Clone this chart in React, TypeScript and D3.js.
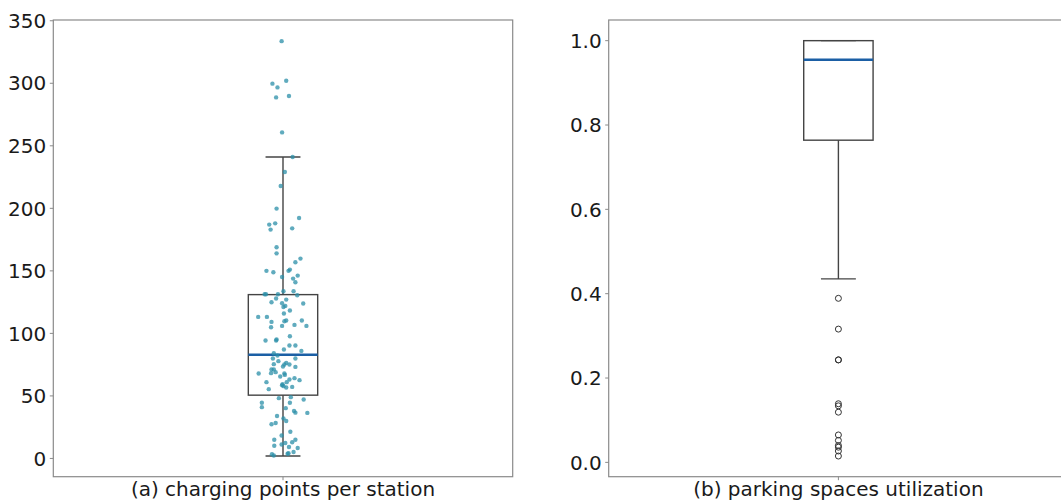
import React from "react";
import * as d3 from "d3";

// ---------- data ----------
const chargingValues: number[] = [
  333.7, 302, 299.7, 296.7, 288.7, 289.8, 260.7, 241, 229, 217.8, 199.8, 192.3, 187, 188, 183, 184,
  168.9, 164, 159.8, 156.9, 150, 148.9, 150, 151, 146.2, 145.1, 143.8, 140.9, 133.7, 133.7, 131.3,
  131.3, 131.3, 130.5, 127.9, 127, 124.9, 124.1, 123.9, 122, 121.1, 118.3, 115.9, 113.2, 113.2,
  110.3, 109.7, 110.3, 109.2, 106.8, 106, 106, 104.9, 97.7, 94.3, 94.3, 95.1, 87.1, 90.3, 90.3, 86,
  84.1, 82.3, 79.9, 79.9, 77.8, 75.4, 75.1, 75.1, 73.5, 76.4, 73.2, 71.1, 71.1, 68.2, 69, 67.9, 66.8,
  67.9, 65.5, 63.1, 64.2, 62.6, 61, 61, 58.6, 57.8, 59.4, 56.7, 57.2, 55.4, 48.2, 49, 44.5, 47.1,
  44.5, 41, 40.2, 38, 36.6, 36.4, 33.9, 32, 30, 27.3, 28.3, 21.3, 18.3, 15, 15, 12.4, 11.2, 12.9,
  10.1, 9.2, 8.3, 5.1, 3.3, 2.3, 3.8, 4.2,
];
const chargingJitter: number[] = [
  0.997, 1.007, 0.977, 0.988, 0.985, 1.013, 0.998, 1.021, 1.004, 0.995, 0.986, 1.035, 0.97, 0.983,
  0.973, 1.02, 0.986, 0.986, 1.038, 1.027, 0.964, 0.979, 1.012, 1.015, 1.032, 0.998, 1.022, 1.027,
  1.001, 1.023, 0.96, 0.963, 0.989, 1.031, 0.985, 1.007, 0.975, 0.998, 1.044, 1.005, 1.001, 1.015,
  1.002, 0.946, 0.965, 1.007, 1.003, 1.041, 0.975, 1.025, 0.998, 1.051, 0.974, 1.015, 0.962, 0.985,
  0.986, 1.002, 1.014, 1.027, 1.04, 0.98, 0.988, 0.978, 1.027, 0.99, 0.98, 1.014, 1.003, 1.0, 1.007,
  1.027, 0.975, 0.98, 0.974, 0.984, 1.003, 1.004, 0.947, 0.994, 1.014, 1.025, 1.036, 0.964, 1.008,
  0.998, 1.001, 0.999, 1.007, 1.02, 0.969, 0.991, 1.017, 1.015, 1.045, 0.954, 0.954, 1.006, 1.024,
  1.027, 1.053, 0.987, 1.001, 1.007, 0.975, 0.984, 1.016, 0.997, 0.981, 1.027, 1.005, 0.997, 1.02,
  0.981, 1.013, 1.032, 1.023, 0.976, 0.98, 1.01, 1.012,
];
// box statistics: [whiskerLow, q1, median, q3, whiskerHigh]
const chargingBox: number[] = [2, 50.6, 83, 131, 241];
const chargingTicks: number[] = [0, 50, 100, 150, 200, 250, 300, 350];

const parkingBox: number[] = [0.435, 0.764, 0.955, 1.0, 1.0];
const parkingOutliers: number[] = [
  0.389, 0.316, 0.243, 0.243, 0.139, 0.134, 0.119, 0.065, 0.052, 0.04, 0.036, 0.027, 0.015,
];
const parkingTicks: number[] = [0.0, 0.2, 0.4, 0.6, 0.8, 1.0];

const panelLabels: string[] = ["(a) charging points per station", "(b) parking spaces utilization"];

// ---------- layout ----------
const W = 1061;
const H = 500;
const TOP = 20;
const BOTTOM = 476.7;
const PANEL_W = 459.4;
const LEFTS = [53.3, 608.7];
const FONT = "DejaVu Sans, sans-serif";
const FRAME = "#8a8a8a";
const BOXC = "#444444";
const MEDC = "#1b5fa5";
const PTC = "#2b8fa8";

function Panel({
  left,
  yScale,
  ticks,
  fmt,
  box,
  label,
  children,
}: {
  left: number;
  yScale: d3.ScaleLinear<number, number>;
  ticks: number[];
  fmt: (v: number) => string;
  box: number[];
  label: string;
  children?: React.ReactNode;
}) {
  const x = d3.scaleLinear().domain([0.5, 1.5]).range([left, left + PANEL_W]);
  const boxHalf = 0.0755;
  const capHalf = 0.038;
  const [wl, q1, med, q3, wh] = box;
  const cx = x(1);
  return (
    <g>
      <rect
        x={left}
        y={TOP}
        width={PANEL_W}
        height={BOTTOM - TOP}
        fill="none"
        stroke={FRAME}
        strokeWidth={1.2}
      />
      {ticks.map((t) => (
        <g key={t}>
          <line x1={left - 3.5} x2={left} y1={yScale(t)} y2={yScale(t)} stroke={FRAME} strokeWidth={1} />
          <text
            x={left - 7}
            y={yScale(t)}
            dy="0.36em"
            textAnchor="end"
            fontFamily={FONT}
            fontSize={20}
            fill="#1a1a1a"
          >
            {fmt(t)}
          </text>
        </g>
      ))}
      <line x1={cx} x2={cx} y1={BOTTOM} y2={BOTTOM + 3.5} stroke={FRAME} strokeWidth={1} />
      <text
        x={cx}
        y={BOTTOM + 19.5}
        textAnchor="middle"
        fontFamily={FONT}
        fontSize={20}
        fill="#1a1a1a"
      >
        {label}
      </text>
      {/* whiskers */}
      <line x1={cx} x2={cx} y1={yScale(q3)} y2={yScale(wh)} stroke={BOXC} strokeWidth={1.4} />
      <line x1={cx} x2={cx} y1={yScale(q1)} y2={yScale(wl)} stroke={BOXC} strokeWidth={1.4} />
      <line x1={x(1 - capHalf)} x2={x(1 + capHalf)} y1={yScale(wh)} y2={yScale(wh)} stroke={BOXC} strokeWidth={1.4} />
      <line x1={x(1 - capHalf)} x2={x(1 + capHalf)} y1={yScale(wl)} y2={yScale(wl)} stroke={BOXC} strokeWidth={1.4} />
      {/* box */}
      <rect
        x={x(1 - boxHalf)}
        y={yScale(q3)}
        width={x(1 + boxHalf) - x(1 - boxHalf)}
        height={yScale(q1) - yScale(q3)}
        fill="none"
        stroke={BOXC}
        strokeWidth={1.4}
      />
      <line
        x1={x(1 - boxHalf)}
        x2={x(1 + boxHalf)}
        y1={yScale(med)}
        y2={yScale(med)}
        stroke={MEDC}
        strokeWidth={2.5}
      />
      {children}
    </g>
  );
}

export default function App() {
  const yA = d3.scaleLinear().domain([-14.6, 350.6]).range([BOTTOM, TOP]);
  const yB = d3.scaleLinear().domain([-0.034, 1.049]).range([BOTTOM, TOP]);
  const xA = d3.scaleLinear().domain([0.5, 1.5]).range([LEFTS[0], LEFTS[0] + PANEL_W]);
  const xB = d3.scaleLinear().domain([0.5, 1.5]).range([LEFTS[1], LEFTS[1] + PANEL_W]);
  return (
    <svg
      width={W}
      height={H}
      style={{ position: "absolute", left: 0, top: 0, display: "block", background: "white" }}
    >
      <rect x={0} y={0} width={W} height={H} fill="white" />
      <Panel
        left={LEFTS[0]}
        yScale={yA}
        ticks={chargingTicks}
        fmt={(v) => String(v)}
        box={chargingBox}
        label={panelLabels[0]}
      >
        {chargingValues.map((v, i) => (
          <circle key={i} cx={xA(chargingJitter[i])} cy={yA(v)} r={2.2} fill={PTC} fillOpacity={0.75} />
        ))}
      </Panel>
      <Panel
        left={LEFTS[1]}
        yScale={yB}
        ticks={parkingTicks}
        fmt={(v) => v.toFixed(1)}
        box={parkingBox}
        label={panelLabels[1]}
      >
        {parkingOutliers.map((v, i) => (
          <circle key={i} cx={xB(1)} cy={yB(v)} r={3} fill="none" stroke="#333" strokeWidth={1} />
        ))}
      </Panel>
    </svg>
  );
}
